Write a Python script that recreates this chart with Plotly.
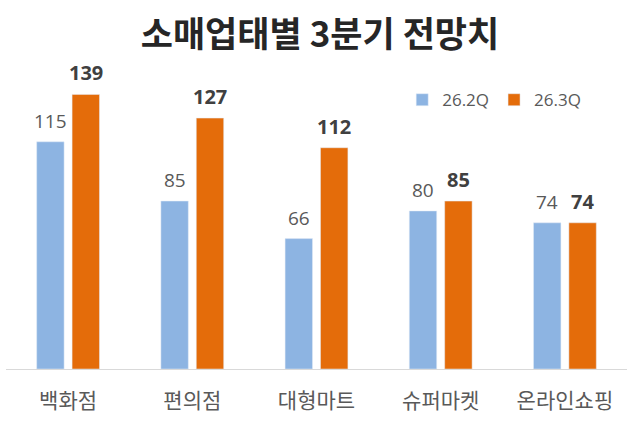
import plotly.graph_objects as go

categories = ["백화점", "편의점", "대형마트", "슈퍼마켓", "온라인쇼핑"]
q2_values = [115, 85, 66, 80, 74]
q3_values = [139, 127, 112, 85, 74]
series_names = ["26.2Q", "26.3Q"]

fig = go.Figure()
fig.add_trace(go.Bar(
    x=categories, y=q2_values, name=series_names[0],
    marker=dict(color="#8DB4E2"),
))
fig.add_trace(go.Bar(
    x=categories, y=q3_values, name=series_names[1],
    marker=dict(color="#E46C0A"),
))

# value labels above bars
half_slot = 124.2 * (1 - 0.43) / 4
for c, v in zip(categories, q2_values):
    fig.add_annotation(x=c, y=v, text=str(v), showarrow=False,
                       xanchor="center", yanchor="bottom", xshift=-half_slot, yshift=6,
                       font=dict(family="Open Sans, Noto Sans CJK KR", size=19, color="#595959"))
for c, v in zip(categories, q3_values):
    fig.add_annotation(x=c, y=v, text="<b>%d</b>" % v, showarrow=False,
                       xanchor="center", yanchor="bottom", xshift=half_slot, yshift=6,
                       font=dict(family="Open Sans, Noto Sans CJK KR", size=20, color="#404040"))

fig.update_layout(
    width=640, height=432,
    margin=dict(l=6, r=13, t=60, b=63),
    paper_bgcolor="white", plot_bgcolor="white",
    barmode="group", bargap=0.43, bargroupgap=0.225,
    title=dict(text="<b>소매업태별 3분기 전망치</b>", x=0.5, xanchor="center",
               y=0.92, yanchor="middle",
               font=dict(family="Noto Sans CJK KR", size=35, color="#262626")),
    legend=dict(orientation="h", x=0.638, xanchor="left", y=0.87, yanchor="middle",
                font=dict(family="Open Sans, Noto Sans CJK KR", size=17, color="#595959"),
                itemwidth=30, bgcolor="rgba(0,0,0,0)"),
    xaxis=dict(showline=True, linecolor="#D9D9D9", linewidth=1,
               tickfont=dict(family="Noto Sans CJK KR", size=21, color="#595959"),
               ticks="outside", ticklen=0, ticklabelstandoff=13, showgrid=False),
    yaxis=dict(visible=False, range=[0, 156.4], showgrid=False),
    showlegend=True,
)

fig.write_html("out.html")
